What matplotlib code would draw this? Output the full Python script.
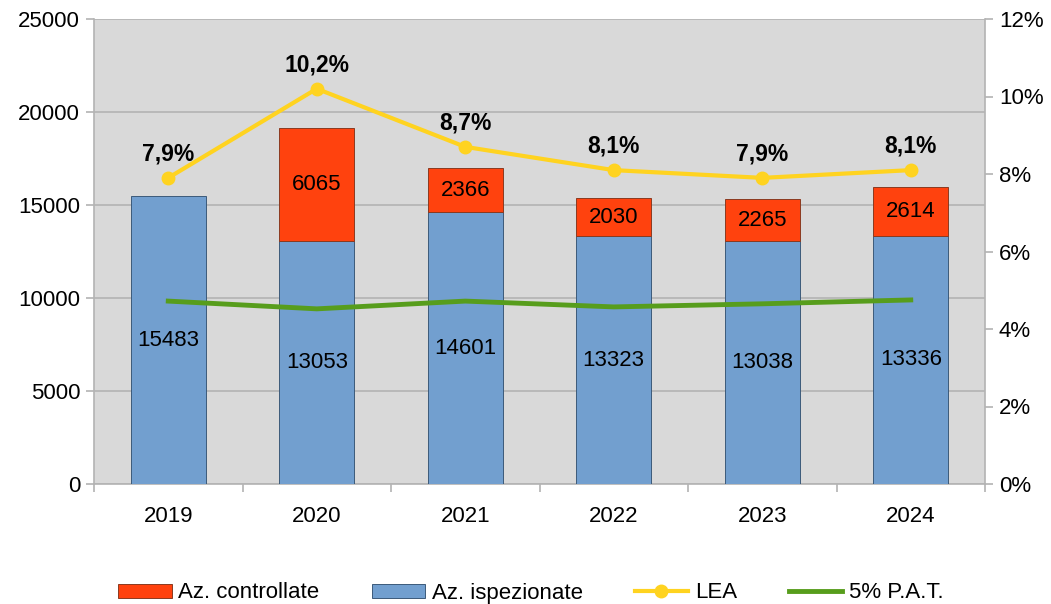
import numpy as np
import matplotlib.pyplot as plt
from matplotlib import rcParams
from matplotlib.ticker import FuncFormatter
from matplotlib.patches import Patch

rcParams.update({"font.family": ["Liberation Sans", "DejaVu Sans"], "font.size": 16})

years = ["2019", "2020", "2021", "2022", "2023", "2024"]
ispezionate = [15483, 13053, 14601, 13323, 13038, 13336]
controllate = [0, 6065, 2366, 2030, 2265, 2614]
lea = [7.9, 10.2, 8.7, 8.1, 7.9, 8.1]
pat5 = [4.72, 4.52, 4.72, 4.57, 4.65, 4.75]

c_blue = '#729fcf'
c_red = '#ff420e'
c_yellow = '#ffd320'
c_green = '#579d1c'
fs = 16

fig = plt.figure(figsize=(10.51, 6.04), dpi=100)
ax = fig.add_axes([94 / 1051, 1 - 484 / 604, 891 / 1051, 465 / 604])
ax.set_facecolor('#d9d9d9')
x = np.arange(len(years))
w = 0.505

b1 = ax.bar(x, ispezionate, w, color=c_blue, edgecolor='#3c5a7a', linewidth=0.7, zorder=3)
b2 = ax.bar(x, controllate, w, bottom=ispezionate, color=c_red, edgecolor='#8a3a20',
            linewidth=0.7, zorder=3)
b2[0].set_visible(False)

for i in range(len(years)):
    ax.text(x[i], ispezionate[i] / 2, str(ispezionate[i]), ha='center', va='center',
            fontsize=fs, zorder=5)
    if controllate[i] > 0:
        ax.text(x[i], ispezionate[i] + controllate[i] / 2, str(controllate[i]),
                ha='center', va='center', fontsize=fs, zorder=5)

ax.set_xlim(-0.5, 5.5)
ax.set_ylim(0, 25000)
ax.set_yticks(np.arange(0, 25001, 5000))
ax.set_xticks(x)
ax.set_xticklabels(years)
ax.set_xticks(np.arange(-0.5, 6, 1), minor=True)
ax.tick_params(axis='x', which='major', length=0, pad=16, labelsize=fs)
ax.tick_params(axis='x', which='minor', length=6, color='#b3b3b3', width=1.2)
ax.tick_params(axis='y', length=6, color='#b3b3b3', width=1.2, labelsize=fs, pad=4)
ax.grid(axis='y', color='#b3b3b3', linewidth=1.2, zorder=0)
for s in ['top', 'right']:
    ax.spines[s].set_visible(False)
ax.spines['left'].set_color('#b3b3b3')
ax.spines['bottom'].set_color('#b3b3b3')
ax.spines['left'].set_linewidth(1.2)
ax.spines['bottom'].set_linewidth(1.2)

ax2 = ax.twinx()
ax2.set_ylim(0, 12)
ax2.set_yticks(np.arange(0, 13, 2))
ax2.yaxis.set_major_formatter(FuncFormatter(lambda v, p: '%d%%' % v))
ax2.tick_params(axis='y', length=6, color='#b3b3b3', width=1.2, labelsize=fs, pad=4)
for s in ['top', 'left', 'bottom']:
    ax2.spines[s].set_visible(False)
ax2.spines['right'].set_color('#b3b3b3')
ax2.spines['right'].set_linewidth(1.2)

l2, = ax2.plot(x, pat5, color=c_green, linewidth=3.5, zorder=4)
l1, = ax2.plot(x, lea, color=c_yellow, linewidth=3, marker='o', markersize=9, zorder=5)
for i in range(len(years)):
    ax2.text(x[i], lea[i] + 0.62, ('%.1f%%' % lea[i]).replace('.', ','), ha='center',
             va='center', fontsize=16.5, fontweight='bold')

h_red = Patch(facecolor=c_red, edgecolor='#8a3a20', linewidth=0.7)
h_blue = Patch(facecolor=c_blue, edgecolor='#3c5a7a', linewidth=0.7)
fig.legend([h_red, h_blue, l1, l2], ['Az. controllate', 'Az. ispezionate', 'LEA', '5% P.A.T.'],
           loc='center', bbox_to_anchor=(531 / 1051, 1 - 593 / 604), ncol=4,
           frameon=False, fontsize=fs, handlelength=2.4, handleheight=0.6,
           columnspacing=2.35, handletextpad=0.3)

plt.savefig('out.png', dpi=100)
